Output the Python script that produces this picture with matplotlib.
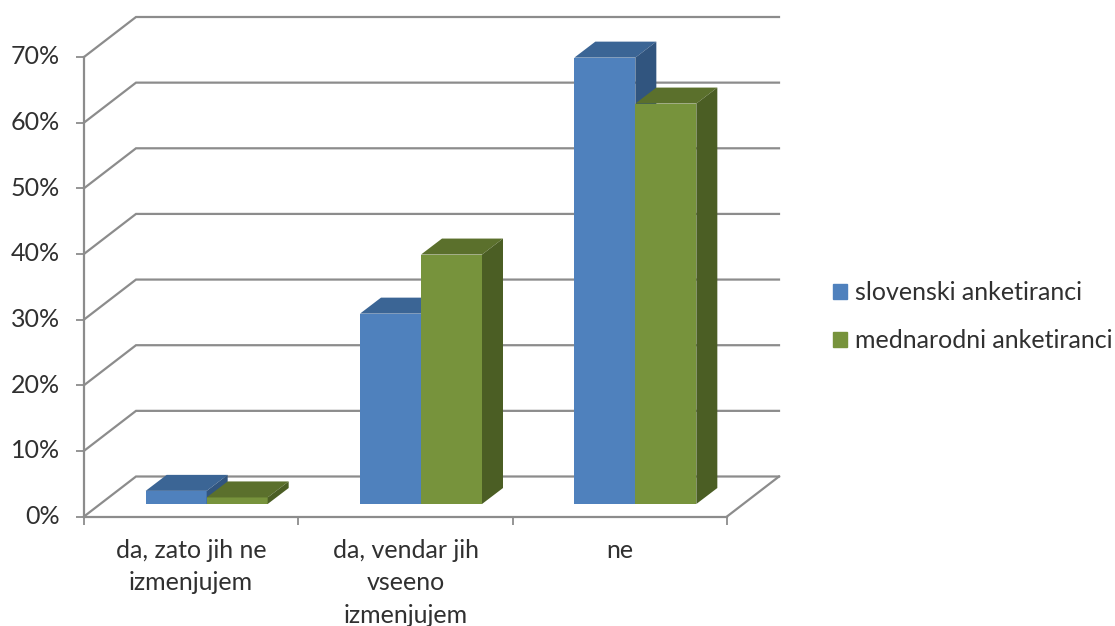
import matplotlib
matplotlib.use("Agg")
import matplotlib.pyplot as plt
from matplotlib.patches import Polygon, Patch
from matplotlib.transforms import ScaledTranslation

categorias = ["da, zato jih ne\nizmenjujem", "da, vendar jih\nvseeno\nizmenjujem", "ne"]
slovenski = [2, 29, 68]
mednarodni = [1, 38, 61]
ticks_y = [0, 10, 20, 30, 40, 50, 60, 70]

W, H = 1115, 626
GRIS = "#8c8c8c"
TEXTO = "#303030"

plt.rcParams["font.family"] = ["Lato", "DejaVu Sans"]

fig = plt.figure(figsize=(W / 100, H / 100), dpi=100)
# area del frente del grafico, en pixeles de la imagen
izq, der, arriba, abajo = 84, 727, 57, 516.5
ax = fig.add_axes([izq / W, 1 - abajo / H, (der - izq) / W, (abajo - arriba) / H])
ax.set_xlim(-0.5, 2.5)
ax.set_ylim(0, 70)

px_x = 3 / (der - izq)
px_y = 70 / (abajo - arriba)

# profundidad del suelo y de las barras
fondo_x, fondo_y = 52 * px_x, 40 * px_y
prof_x, prof_y = 21 * px_x, 16 * px_y
ancho = 61 * px_x
base = 12.5 * px_y
despl = 15.5 * px_x

# paredes y suelo
for v in ticks_y:
    ax.plot([-0.5, -0.5 + fondo_x, 2.5 + fondo_x], [v, v + fondo_y, v + fondo_y],
            color=GRIS, lw=1.6, clip_on=False, zorder=1, solid_joinstyle="miter")
ax.plot([2.5, 2.5 + fondo_x], [0, fondo_y], color=GRIS, lw=1.6, clip_on=False, zorder=1)


def barra(x, v, frente, techo, lado, z):
    x0 = x
    x1 = x + ancho
    y0 = base
    y1 = base + v
    ax.bar(x0, v, width=ancho, bottom=y0, align="edge", color=frente, clip_on=False, zorder=z)
    ax.add_patch(Polygon([(x0, y1), (x1, y1), (x1 + prof_x, y1 + prof_y), (x0 + prof_x, y1 + prof_y)],
                         closed=True, facecolor=techo, edgecolor="none", clip_on=False, zorder=z))
    ax.add_patch(Polygon([(x1, y0), (x1, y1), (x1 + prof_x, y1 + prof_y), (x1 + prof_x, y0 + prof_y)],
                         closed=True, facecolor=lado, edgecolor="none", clip_on=False, zorder=z))


for i in range(len(categorias)):
    barra(i + despl - ancho, slovenski[i], "#4f81bd", "#3b6595", "#31557f", 3)
    barra(i + despl, mednarodni[i], "#77933c", "#5b702c", "#4b5e24", 4)

# ejes
for lado in ["top", "right"]:
    ax.spines[lado].set_visible(False)
for lado in ["left", "bottom"]:
    ax.spines[lado].set_color(GRIS)
    ax.spines[lado].set_linewidth(1.6)
    ax.spines[lado].set_zorder(2)

ax.set_yticks(ticks_y)
ax.set_yticklabels([f"{v}%" for v in ticks_y])
ax.set_xticks(range(len(categorias)))
ax.set_xticklabels(categorias, linespacing=1.5)
ax.set_xticks([-0.5, 0.5, 1.5, 2.5], minor=True)
ax.tick_params(axis="y", length=5.5, width=1.3, color=GRIS, labelsize=18, labelcolor=TEXTO, pad=12)
ax.tick_params(axis="x", which="major", length=0, labelsize=18, labelcolor=TEXTO, pad=16)
ax.tick_params(axis="x", which="minor", length=6, width=1.3, color=GRIS)
ax.patch.set_alpha(0)

# las etiquetas del eje y van un poco mas arriba que las marcas
subir = ScaledTranslation(0, 1.5 / 72, fig.dpi_scale_trans)
for lbl in ax.get_yticklabels():
    lbl.set_transform(lbl.get_transform() + subir)

handles = [Patch(color="#4f81bd", label="slovenski anketiranci"),
           Patch(color="#77933c", label="mednarodni anketiranci")]
leg = fig.legend(handles=handles, loc="upper left", bbox_to_anchor=(833 / W, 1 - 281 / H),
                 frameon=False, fontsize=18, handlelength=0.56, handleheight=0.56,
                 handletextpad=0.32, labelspacing=1.0, borderpad=0, borderaxespad=0,
                 labelcolor=TEXTO)

fig.savefig("out.png", dpi=100)
